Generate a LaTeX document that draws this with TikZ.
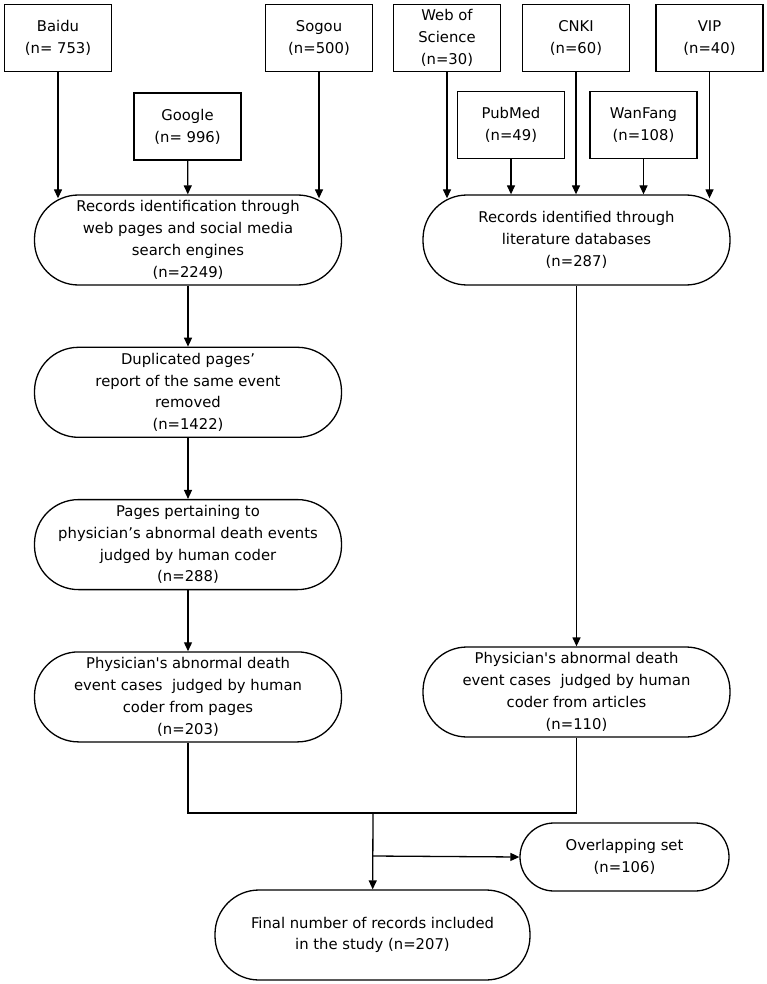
\documentclass[tikz,border=0pt]{standalone}
\usepackage{fontspec}
\setmainfont{DejaVu Sans}
\usetikzlibrary{arrows.meta, positioning, calc}

\begin{document}
\begin{tikzpicture}[
    x=1pt, y=-1pt,
    font=\fontsize{14.8}{21.8}\selectfont,
    src/.style={rectangle, draw, line width=1.3pt, minimum width=107pt, minimum height=67pt, align=center, inner sep=2pt},
    stadium/.style={rectangle, draw, line width=1.3pt, rounded corners=44pt, minimum width=307pt, minimum height=90pt, align=center, inner sep=2pt},
    arr/.style={-{Triangle[length=9pt, width=8pt]}, line width=1.3pt}
]
\useasboundingbox (0,0) rectangle (766,984);
% search engines
\node[src] (baidu) at (58,38) {Baidu\\(n= 753)};
\node[src] (sogou) at (319,38) {Sogou\\(n=500)};
\node[src] (google) at (187.5,126.5) {Google\\(n= 996)};
% literature databases
\node[src] (wos) at (447,38) {Web of\\Science\\(n=30)};
\node[src] (cnki) at (576,38) {CNKI\\(n=60)};
\node[src] (vip) at (709.5,38) {VIP\\(n=40)};
\node[src] (pubmed) at (511,125) {PubMed\\(n=49)};
\node[src] (wanfang) at (643.5,125) {WanFang\\(n=108)};
% left column
\node[stadium] (web) at (188,240) {Records identification through\\web pages and social media\\search engines\\(n=2249)};
\node[stadium, below=61pt of web] (dup) {Duplicated pages’\\report of the same event\\removed\\(n=1422)};
\node[stadium, below=61pt of dup] (pages) {Pages pertaining to\\physician’s abnormal death events\\judged by human coder\\(n=288)};
\node[stadium, below=61pt of pages] (cases) {Physician\textquotesingle s abnormal death\\event cases\ \ judged by human\\coder from pages\\(n=203)};
% right column
\node[stadium] (dbs) at (576.5,240) {Records identified through\\literature databases\\(n=287)};
\node[stadium] (arts) at (576.5,692) {Physician\textquotesingle s abnormal death\\event cases\ \ judged by human\\coder from articles\\(n=110)};
% bottom
\node[stadium, minimum width=209pt, minimum height=68pt, rounded corners=34pt] (overlap) at (624.5,857) {Overlapping set\\(n=106)};
\node[stadium, minimum width=315pt] (final) at (372.5,935) {Final number of records included\\in the study (n=207)};
\coordinate (merge) at (373,813);
\coordinate (split) at (373,856);

\draw[arr, shorten >=-4pt] (baidu) -- (baidu |- web.north);
\draw[arr] (google) -- (web);
\draw[arr, shorten >=-4pt] (sogou) -- (sogou |- web.north);
\draw[arr, shorten >=-4pt] (wos) -- (wos |- dbs.north);
\draw[arr] (pubmed) -- (pubmed |- dbs.north);
\draw[arr] (cnki) -- (cnki |- dbs.north);
\draw[arr] (wanfang) -- (wanfang |- dbs.north);
\draw[arr, shorten >=-4pt] (vip) -- (vip |- dbs.north);
\draw[arr] (web) -- (dup);
\draw[arr] (dup) -- (pages);
\draw[arr] (pages) -- (cases);
\draw[arr] (dbs) -- (arts);
\draw[line width=1.3pt] (cases.south) -- (cases.south |- merge) -- (arts.south |- merge) -- (arts.south);
\draw[arr] (merge) -- (final);
\draw[arr] (split) -- (overlap.west);
\end{tikzpicture}
\end{document}
